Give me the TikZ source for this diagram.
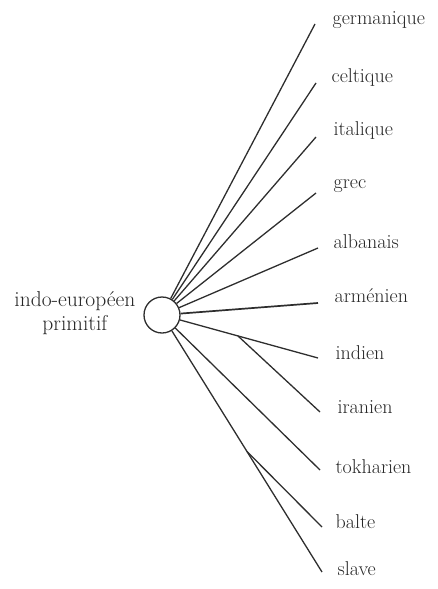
\documentclass[tikz,border=0pt]{standalone}
\usepackage{tikz}

\begin{document}
\begin{tikzpicture}[x=1pt, y=-1pt, line width=1.3pt, draw=black!82,
  every node/.style={text=black!85, font=\fontsize{20}{24}\selectfont}]
  \useasboundingbox (0,0) rectangle (437,589);
  \node[circle, draw, minimum size=36pt, inner sep=0pt] (pie) at (162,315) {};
  \node[anchor=east, align=center, inner sep=0pt, font=\fontsize{21.5}{24}\selectfont] (proto) at (136,313) {indo-européen\\primitif};
  % language labels
  \node[anchor=base west, inner sep=0pt] (germ) at (332,24)  {germanique};
  \node[anchor=base west, inner sep=0pt] (celt) at (331,82)  {celtique};
  \node[anchor=base west, inner sep=0pt] (ital) at (333,135) {italique};
  \node[anchor=base west, inner sep=0pt] (grec) at (333,188) {grec};
  \node[anchor=base west, inner sep=0pt] (alba) at (333,248) {albanais};
  \node[anchor=base west, inner sep=0pt] (arme) at (334,302) {arménien};
  \node[anchor=base west, inner sep=0pt] (indi) at (335,359) {indien};
  \node[anchor=base west, inner sep=0pt] (iran) at (337,413) {iranien};
  \node[anchor=base west, inner sep=0pt] (tokh) at (335,473) {tokharien};
  \node[anchor=base west, inner sep=0pt] (balt) at (335,528) {balte};
  \node[anchor=base west, inner sep=0pt] (slav) at (337,575) {slave};
  % branches
  \draw (pie) -- ([xshift=-17pt]germ.base west);
  \draw (pie) -- ([xshift=-15pt, yshift=-1pt]celt.base west);
  \draw (pie) -- ([xshift=-17pt, yshift=-2pt]ital.base west);
  \draw (pie) -- ([xshift=-17pt, yshift=-5pt]grec.base west);
  \draw (pie) -- ([xshift=-15pt]alba.base west);
  \draw[line width=1.7pt] (pie) -- ([xshift=-16pt, yshift=-1pt]arme.base west);
  \draw (pie) -- coordinate[pos=.42] (ii) ([xshift=-17pt, yshift=1pt]indi.base west);
  \draw (ii) -- ([xshift=-17pt, yshift=1pt]iran.base west);
  \draw (pie) -- ([xshift=-15pt, yshift=3pt]tokh.base west);
  \draw (pie) -- coordinate[pos=.5] (bs) ([xshift=-15pt, yshift=3pt]slav.base west);
  \draw (bs) -- ([xshift=-13pt, yshift=1pt]balt.base west);
\end{tikzpicture}
\end{document}
